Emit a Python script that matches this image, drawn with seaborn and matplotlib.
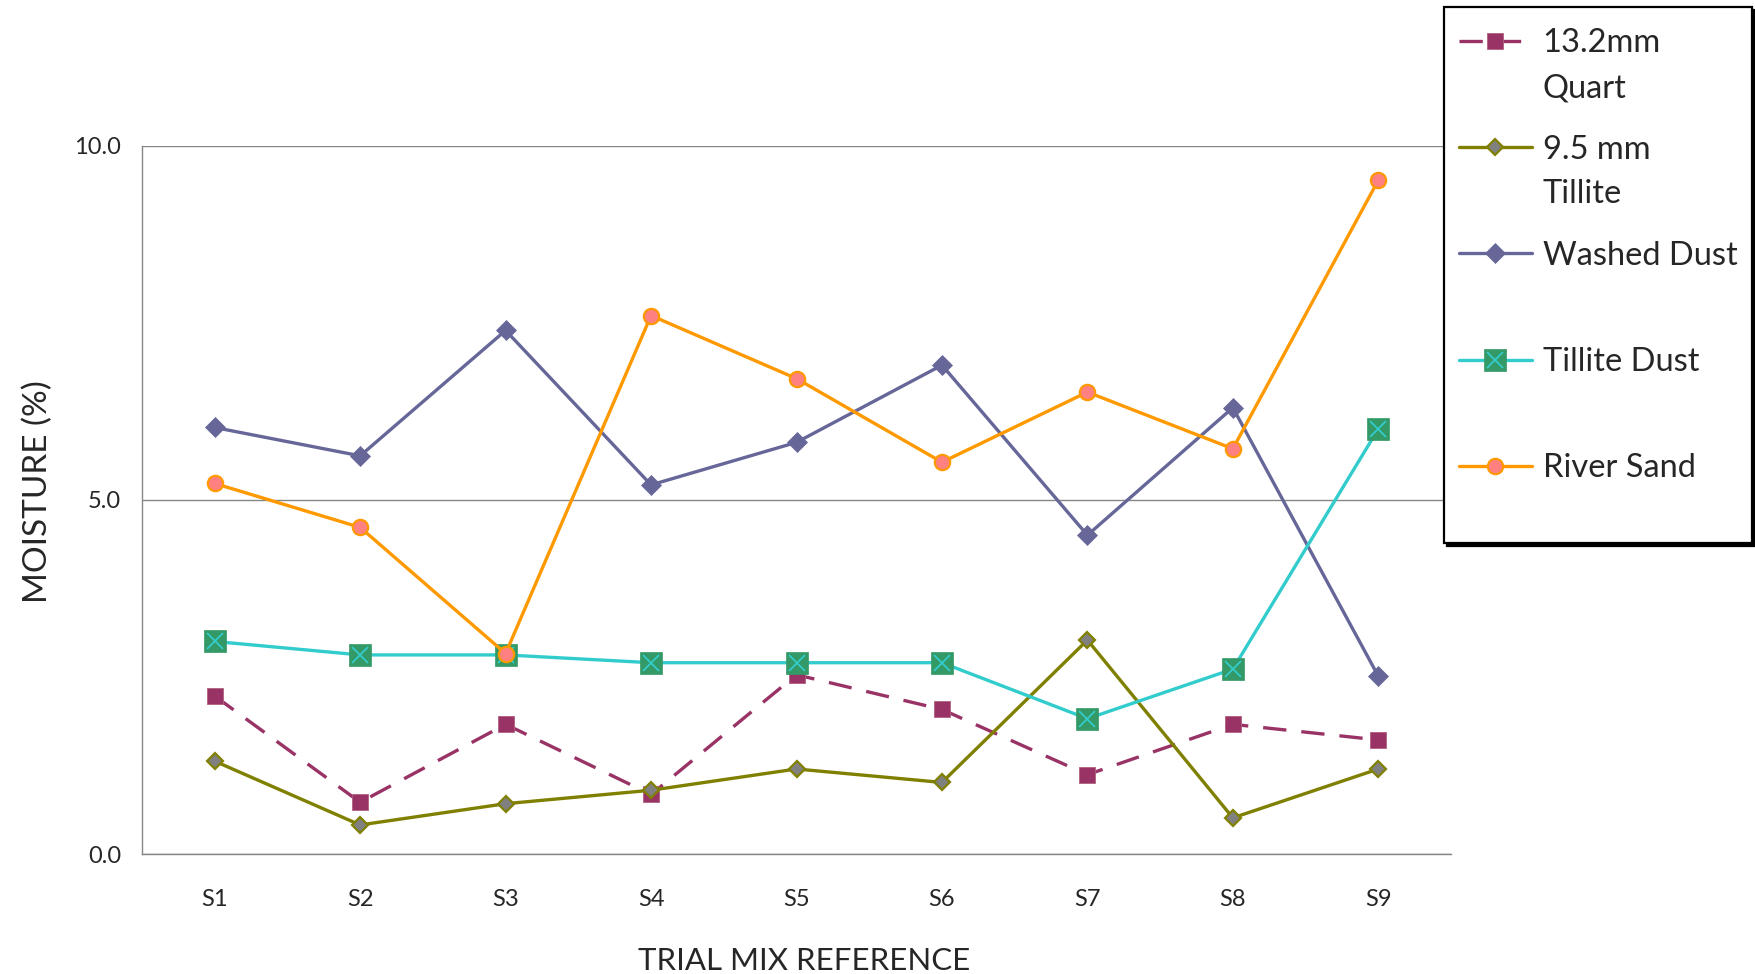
import numpy as np
import matplotlib
matplotlib.use("Agg")
import matplotlib.pyplot as plt
import seaborn as sns
from matplotlib.legend_handler import HandlerBase, HandlerLine2D, HandlerTuple
from matplotlib.offsetbox import DrawingArea
from matplotlib.transforms import Affine2D

# Moisture content (%) per trial mix
trials = ["S1", "S2", "S3", "S4", "S5", "S6", "S7", "S8", "S9"]
quart_132 = [2.23, 0.73, 1.83, 0.84, 2.53, 2.04, 1.12, 1.83, 1.61]
tillite_95 = [1.31, 0.41, 0.71, 0.90, 1.20, 1.01, 3.02, 0.51, 1.20]
washed_dust = [6.02, 5.62, 7.39, 5.21, 5.81, 6.90, 4.50, 6.30, 2.51]
tillite_dust = [3.00, 2.81, 2.81, 2.70, 2.70, 2.70, 1.91, 2.61, 6.00]
river_sand = [5.23, 4.61, 2.83, 7.60, 6.71, 5.53, 6.52, 5.72, 9.51]

labels = ["13.2mm\nQuart", "9.5 mm\nTillite", "Washed Dust\n ", "Tillite Dust\n ", "River Sand\n "]
y_ticks = [0.0, 5.0, 10.0]

sns.set_style("white")
plt.rcParams["font.family"] = ["Lato", "DejaVu Sans"]

fig = plt.figure(figsize=(17.55, 9.74), dpi=100)
ax = fig.add_axes([0.0809, 0.1232, 0.8268 - 0.0809, 0.8506 - 0.1232])

LW = 2.4

sns.lineplot(x=trials, y=quart_132, ax=ax, color="#993366", linewidth=LW,
             linestyle=(0, (7, 4.5)), marker="s", markersize=12,
             markerfacecolor="#993366", markeredgecolor="#b0607f",
             markeredgewidth=0.6)
h_quart = ax.lines[-1]

sns.lineplot(x=trials, y=tillite_95, ax=ax, color="#808000", linewidth=LW,
             marker="D", markersize=8.5, markerfacecolor="#808080",
             markeredgecolor="#808000", markeredgewidth=1.6)
h_till95 = ax.lines[-1]

sns.lineplot(x=trials, y=washed_dust, ax=ax, color="#666699", linewidth=LW,
             marker="D", markersize=10, markerfacecolor="#666699",
             markeredgecolor="#666699", markeredgewidth=0.5)
h_washed = ax.lines[-1]

sns.lineplot(x=trials, y=tillite_dust, ax=ax, color="#33CCCC", linewidth=LW,
             marker="s", markersize=16, markerfacecolor="#339966",
             markeredgecolor="#339966", markeredgewidth=0.5)
h_tdust = ax.lines[-1]
sns.lineplot(x=trials, y=tillite_dust, ax=ax, color="#33CCCC", linestyle="",
             marker="x", markersize=12, markeredgecolor="#33CCCC",
             markeredgewidth=1.3)
h_tdust_x = ax.lines[-1]

sns.lineplot(x=trials, y=river_sand, ax=ax, color="#FF9900", linewidth=LW,
             marker="o", markersize=11, markerfacecolor="#FF8080",
             markeredgecolor="#FF9900", markeredgewidth=1.6)
h_river = ax.lines[-1]

# Axes styling
ax.set_xlim(-0.5, len(trials) - 0.5)
ax.set_ylim(0, 10)
ax.set_yticks(y_ticks)
ax.set_yticklabels([f"{v:.1f}" for v in y_ticks], fontsize=17)
ax.tick_params(axis="y", length=0, pad=15)
ax.tick_params(axis="x", length=0, pad=25, labelsize=17)
ax.yaxis.grid(True, color="#868686", linewidth=1.0)
ax.xaxis.grid(False)
for side in ("top", "right"):
    ax.spines[side].set_visible(False)
for side in ("left", "bottom"):
    ax.spines[side].set_color("#868686")
    ax.spines[side].set_linewidth(1.0)

ax.set_xlabel("TRIAL MIX REFERENCE", fontsize=22.5)
ax.set_ylabel("MOISTURE (%)", fontsize=24)
ax.xaxis.set_label_coords(0.506, -0.131)
ax.yaxis.set_label_coords(-0.068, 0.511)


class RaisedHandler(HandlerBase):
    """Draws a handle aligned with the first line of a two-line label."""

    def __init__(self, inner, lift):
        super().__init__()
        self.inner = inner
        self.lift = lift

    def create_artists(self, legend, orig_handle, xdescent, ydescent,
                       width, height, fontsize, trans):
        shifted = Affine2D().translate(0, self.lift * fontsize) + trans
        return self.inner.create_artists(legend, orig_handle, xdescent,
                                         ydescent, width, height, fontsize,
                                         shifted)


LIFT = 0.78
handles = [h_quart, h_till95, h_washed, (h_tdust, h_tdust_x), h_river]
hmap = {
    h_quart: RaisedHandler(HandlerLine2D(), LIFT),
    h_till95: RaisedHandler(HandlerLine2D(), LIFT),
    h_washed: RaisedHandler(HandlerLine2D(), LIFT),
    (h_tdust, h_tdust_x): RaisedHandler(HandlerTuple(ndivide=1, pad=0), LIFT),
    h_river: RaisedHandler(HandlerLine2D(), LIFT),
}

leg = fig.legend(handles, labels, handler_map=hmap, loc="upper left",
                 bbox_to_anchor=(1444 / 1755, 1 - 7 / 974),
                 bbox_transform=fig.transFigure, fontsize=23.5,
                 frameon=True, fancybox=False, framealpha=1,
                 edgecolor="black", shadow={"color": "black", "alpha": 1},
                 borderaxespad=0, borderpad=0.45, handlelength=2.25,
                 handletextpad=0.32, labelspacing=0.96, numpoints=1)
leg.get_frame().set_linewidth(1.6)
for t in leg.get_texts():
    t.set_linespacing(1.62)

# Extra breathing room above the first entry
top_gap = DrawingArea(1, 4.8)
top_gap.set_figure(fig)
leg._legend_box.sep = 0
leg._legend_box._children.insert(0, top_gap)

fig.savefig("out.png", dpi=100)
